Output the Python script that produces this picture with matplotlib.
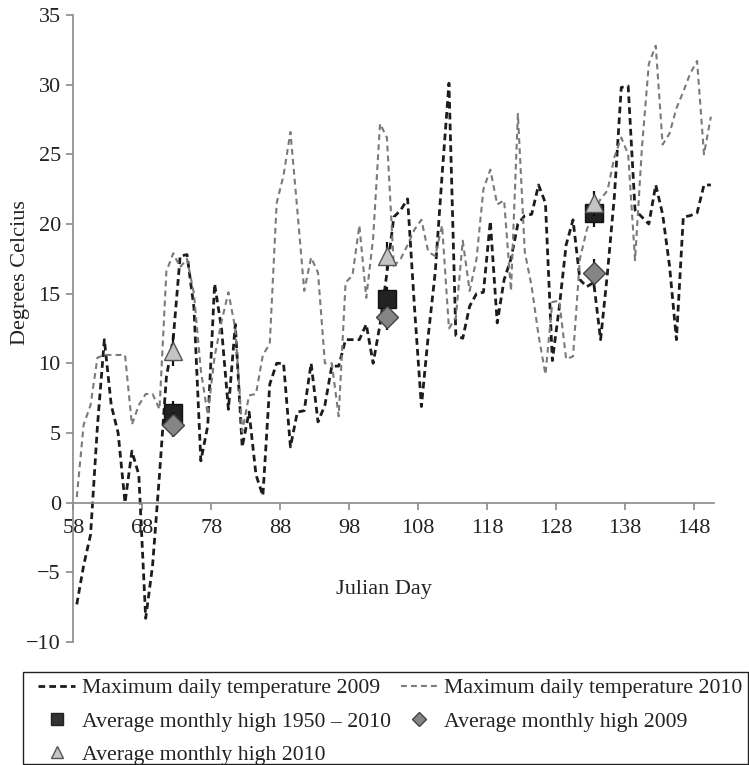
import numpy as np
from matplotlib import pyplot as plt
from matplotlib.lines import Line2D
from matplotlib.patches import Rectangle

plt.rcParams['font.family'] = ['Liberation Serif', 'DejaVu Serif']

# Julian day (value plotted in the middle of the day)
days = np.arange(58, 151)

temp_2009 = [-7.3, -4.5, -2.3, 5.5, 11.7, 7.0, 5.0, 0.0, 3.7, 2.0,
             -8.3, -4.5, 2.0, 9.0, 11.8, 17.7, 17.8, 14.0, 3.0, 5.5,
             15.7, 12.5, 6.7, 12.8, 4.0, 6.5, 2.0, 0.5, 8.5, 10.0,
             10.0, 4.0, 6.5, 6.6, 10.0, 5.8, 7.0, 9.8, 9.8, 11.7,
             11.7, 11.7, 12.8, 10.0, 12.8, 16.5, 20.5, 21.0, 21.8, 14.0,
             6.9, 12.0, 16.5, 23.5, 30.1, 12.0, 11.8, 14.1, 15.0, 15.1,
             20.2, 12.9, 16.0, 17.5, 20.0, 20.6, 20.7, 22.8, 21.5, 10.2,
             14.0, 18.5, 20.3, 16.0, 15.5, 15.8, 11.7, 16.5, 22.0, 29.8,
             29.9, 21.0, 20.5, 20.0, 22.8, 20.7, 17.0, 11.7, 20.5, 20.6,
             20.8, 22.8, 22.8]

temp_2010 = [0.4, 5.6, 7.0, 10.4, 10.6, 10.6, 10.6, 10.6, 5.6, 7.0,
             7.8, 7.8, 6.7, 16.6, 17.9, 16.9, 17.5, 15.0, 9.5, 6.3,
             10.5, 13.0, 15.1, 12.5, 5.1, 7.7, 7.8, 10.6, 11.4, 21.5,
             23.5, 26.6, 21.0, 15.2, 17.6, 16.5, 10.0, 10.0, 6.2, 15.8,
             16.3, 19.9, 14.7, 19.0, 27.2, 26.2, 17.0, 17.5, 18.5, 19.6,
             20.3, 18.0, 17.7, 19.9, 12.5, 13.3, 18.8, 15.2, 17.5, 22.5,
             23.9, 21.4, 21.7, 15.2, 27.9, 18.0, 15.5, 12.0, 9.2, 14.4,
             14.5, 10.3, 10.5, 17.5, 19.6, 20.8, 21.8, 22.4, 24.8, 26.2,
             25.0, 17.4, 25.5, 31.5, 32.8, 25.7, 26.5, 28.3, 29.5, 30.8,
             31.7, 25.0, 27.7]

# monthly averages (March, April, May)
month_days = np.array([72, 103, 133])
avg_1950_2010 = [6.4, 14.6, 20.8]
err_1950_2010 = [0.9, 0.9, 1.0]
avg_2009 = [5.6, 13.3, 16.5]
err_2009 = [0.9, 0.9, 1.0]
avg_2010 = [10.9, 17.7, 21.5]
err_2010 = [1.1, 1.0, 0.9]

fig = plt.figure(figsize=(7.49, 7.65), dpi=100)
ax = fig.add_axes([0.0979, 0.1608, 0.8558, 0.8196])

l09, = ax.plot(days + 0.5, temp_2009, color='#1c1c1c', lw=2.0, dashes=(2.4, 1.5))
l10, = ax.plot(days + 0.5, temp_2010, color='#7a7a7a', lw=1.5, dashes=(2.8, 2.0))

ax.errorbar(month_days + 0.5, avg_1950_2010, yerr=err_1950_2010, fmt='s', ms=12.5,
            mfc='#222222', mec='#111111', ecolor='#111111', elinewidth=1.6, capsize=0, zorder=4)
ax.errorbar(month_days + 0.5, avg_2009, yerr=err_2009, fmt='D', ms=11.5,
            mfc='#858585', mec='#444444', ecolor='#111111', elinewidth=1.6, capsize=0, zorder=5)
ax.errorbar(month_days + 0.5, avg_2010, yerr=err_2010, fmt='^', ms=13.5,
            mfc='#c4c4c4', mec='#555555', ecolor='#111111', elinewidth=1.6, capsize=0, zorder=6)

ax.set_xlim(58, 151)
ax.set_ylim(-10, 35)
ax.set_xticks(range(58, 149, 10))
ax.set_yticks(range(-10, 36, 5))

for s in ['top', 'right']:
    ax.spines[s].set_visible(False)
ax.spines['bottom'].set_position(('data', 0))
for s in ['left', 'bottom']:
    ax.spines[s].set_color('#8a8a8a')
    ax.spines[s].set_linewidth(1.2)
ax.tick_params(axis='both', colors='#8a8a8a', labelcolor='#222222', length=5,
               width=1.2, labelsize=16)
ax.tick_params(axis='x', pad=7)
ax.tick_params(axis='y', pad=4)

ax.text(0.485, 0.0845, 'Julian Day', transform=ax.transAxes, ha='center',
        va='center', fontsize=16, color='#222222')
ax.text(-0.083, 0.589, 'Degrees Celcius', transform=ax.transAxes, ha='center',
        va='center', rotation=90, fontsize=16, color='#222222')

sq = Line2D([], [], ls='none', marker='s', ms=8, mfc='#333333', mec='#222222')
dia = Line2D([], [], ls='none', marker='D', ms=7, mfc='#858585', mec='#444444')
tri = Line2D([], [], ls='none', marker='^', ms=9, mfc='#c4c4c4', mec='#555555')

handles = [l09, sq, tri, l10, dia]
labels = ['Maximum daily temperature 2009', 'Average monthly high 1950 \u2013 2010',
          'Average monthly high 2010', 'Maximum daily temperature 2010',
          'Average monthly high 2009']
leg = fig.legend(handles, labels, loc='upper left', bbox_to_anchor=(0.0507, 0.1137),
                 ncol=2, frameon=False, fontsize=15.7,
                 handlelength=1.7, handletextpad=0.3, columnspacing=0.47,
                 labelspacing=0.6, borderpad=0, borderaxespad=0)
for t in leg.get_texts():
    t.set_color('#222222')

# legend box
fig.add_artist(Rectangle((23 / 749, 1 - 764 / 765), 725 / 749, 92 / 765,
                         transform=fig.transFigure, fill=False, ec='#222222', lw=1.0))

fig.savefig('out.png', dpi=100)
